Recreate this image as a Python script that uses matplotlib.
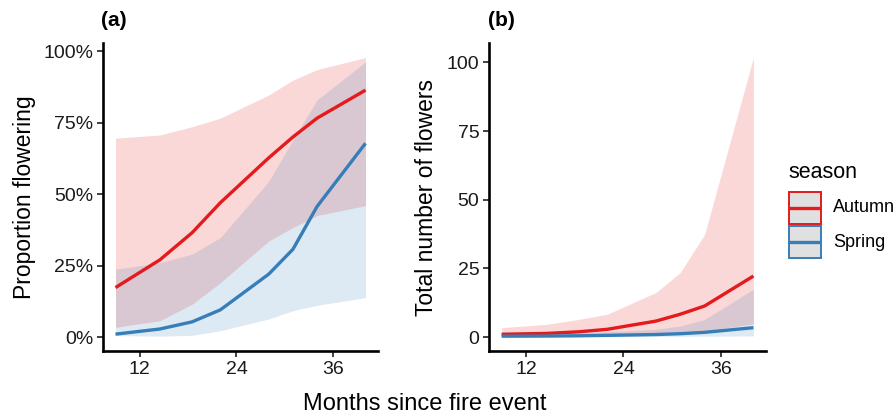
import matplotlib
matplotlib.use("Agg")
import matplotlib.pyplot as plt
from matplotlib.patches import Rectangle
from matplotlib.lines import Line2D
from matplotlib.ticker import FuncFormatter

# DATA
months = [9, 14.5, 18.5, 22, 28, 31, 34, 40]

# (a) proportion flowering, %
prop_autumn = [17.3, 27.0, 36.5, 47.0, 62.7, 70.0, 76.6, 86.4]
prop_autumn_lo = [3.4, 5.7, 11.5, 19.0, 33.6, 38.3, 42.5, 46.0]
prop_autumn_hi = [69.6, 70.7, 73.6, 76.6, 84.7, 89.9, 93.6, 97.8]
prop_spring = [1.0, 2.8, 5.3, 9.5, 22.0, 30.7, 45.7, 67.8]
prop_spring_lo = [0.5, 0.3, 0.6, 2.2, 6.3, 9.2, 11.1, 13.8]
prop_spring_hi = [23.7, 26.0, 29.0, 34.8, 54.5, 69.0, 83.0, 96.3]

# (b) total number of flowers
tot_autumn = [1.0, 1.3, 1.9, 2.8, 5.8, 8.3, 11.3, 22.2]
tot_autumn_lo = [0.3, 0.4, 0.5, 0.7, 1.2, 1.6, 2.2, 4.8]
tot_autumn_hi = [3.4, 4.6, 6.4, 8.3, 16.2, 23.5, 37.4, 101.8]
tot_spring = [0.3, 0.35, 0.45, 0.6, 0.9, 1.2, 1.7, 3.4]
tot_spring_lo = [0.05, 0.07, 0.1, 0.15, 0.2, 0.25, 0.3, 0.4]
tot_spring_hi = [1.0, 1.2, 1.5, 1.9, 2.8, 4.0, 6.4, 17.4]

season_labels = ["Autumn", "Spring"]
season_colors = ["#E41A1C", "#377EB8"]

plt.rcParams["font.family"] = ["Liberation Sans", "DejaVu Sans"]

W, H = 896, 416
fig = plt.figure(figsize=(W / 100, H / 100), dpi=100)


def px_axes(x0, x1, y0, y1):
    return fig.add_axes([x0 / W, 1 - y1 / H, (x1 - x0) / W, (y1 - y0) / H])


def style(ax):
    for s in ("top", "right"):
        ax.spines[s].set_visible(False)
    for s in ("left", "bottom"):
        ax.spines[s].set_linewidth(1.9)
        ax.spines[s].set_color("black")
    ax.tick_params(axis="both", length=4, width=1.3, color="#333333",
                   labelsize=14, labelcolor="#1a1a1a", pad=3)
    ax.set_xticks([12, 24, 36])
    ax.set_xlim(7.45, 41.55)


def draw(ax, series):
    for (mid, lo, hi), col in zip(series, season_colors):
        ax.fill_between(months, lo, hi, color=col, alpha=0.17, linewidth=0)
    for (mid, lo, hi), col in zip(series, season_colors):
        ax.plot(months, mid, color=col, linewidth=2.4, solid_capstyle="butt")


ax1 = px_axes(103, 378, 43, 351)
draw(ax1, [(prop_autumn, prop_autumn_lo, prop_autumn_hi),
           (prop_spring, prop_spring_lo, prop_spring_hi)])
style(ax1)
ax1.set_ylim(-4.9, 102.9)
ax1.set_yticks([0, 25, 50, 75, 100])
ax1.yaxis.set_major_formatter(FuncFormatter(lambda v, p: f"{v:.0f}%"))
ax1.set_ylabel("Proportion flowering", fontsize=16.5, labelpad=5)

ax2 = px_axes(489, 766, 43, 351)
draw(ax2, [(tot_autumn, tot_autumn_lo, tot_autumn_hi),
           (tot_spring, tot_spring_lo, tot_spring_hi)])
style(ax2)
ax2.set_ylim(-5.1, 107.1)
ax2.set_yticks([0, 25, 50, 75, 100])
ax2.set_ylabel("Total number of flowers", fontsize=16.5, labelpad=6)

fig.text(101 / W, 1 - 21 / H, "(a)", fontsize=15, fontweight="bold",
         ha="left", va="center")
fig.text(488 / W, 1 - 21 / H, "(b)", fontsize=15, fontweight="bold",
         ha="left", va="center")

fig.text(425 / W, 1 - 404 / H, "Months since fire event", fontsize=17,
         ha="center", va="center")

# legend
fig.text(788 / W, 1 - 172 / H, "season", fontsize=15.5, ha="left", va="center")
for i, (lab, col) in enumerate(zip(season_labels, season_colors)):
    y0 = 192 + i * 34
    fig.add_artist(Rectangle((789 / W, 1 - (y0 + 32) / H), 32 / W, 32 / H,
                             transform=fig.transFigure, facecolor="#E0E0E0",
                             edgecolor=col, linewidth=1.4))
    fig.add_artist(Line2D([791 / W, 819 / W], [1 - (y0 + 16) / H] * 2,
                          transform=fig.transFigure, color=col, linewidth=2.4))
    fig.text(833 / W, 1 - (y0 + 16) / H, lab, fontsize=13, ha="left", va="center")

fig.savefig("out.png", dpi=100)
